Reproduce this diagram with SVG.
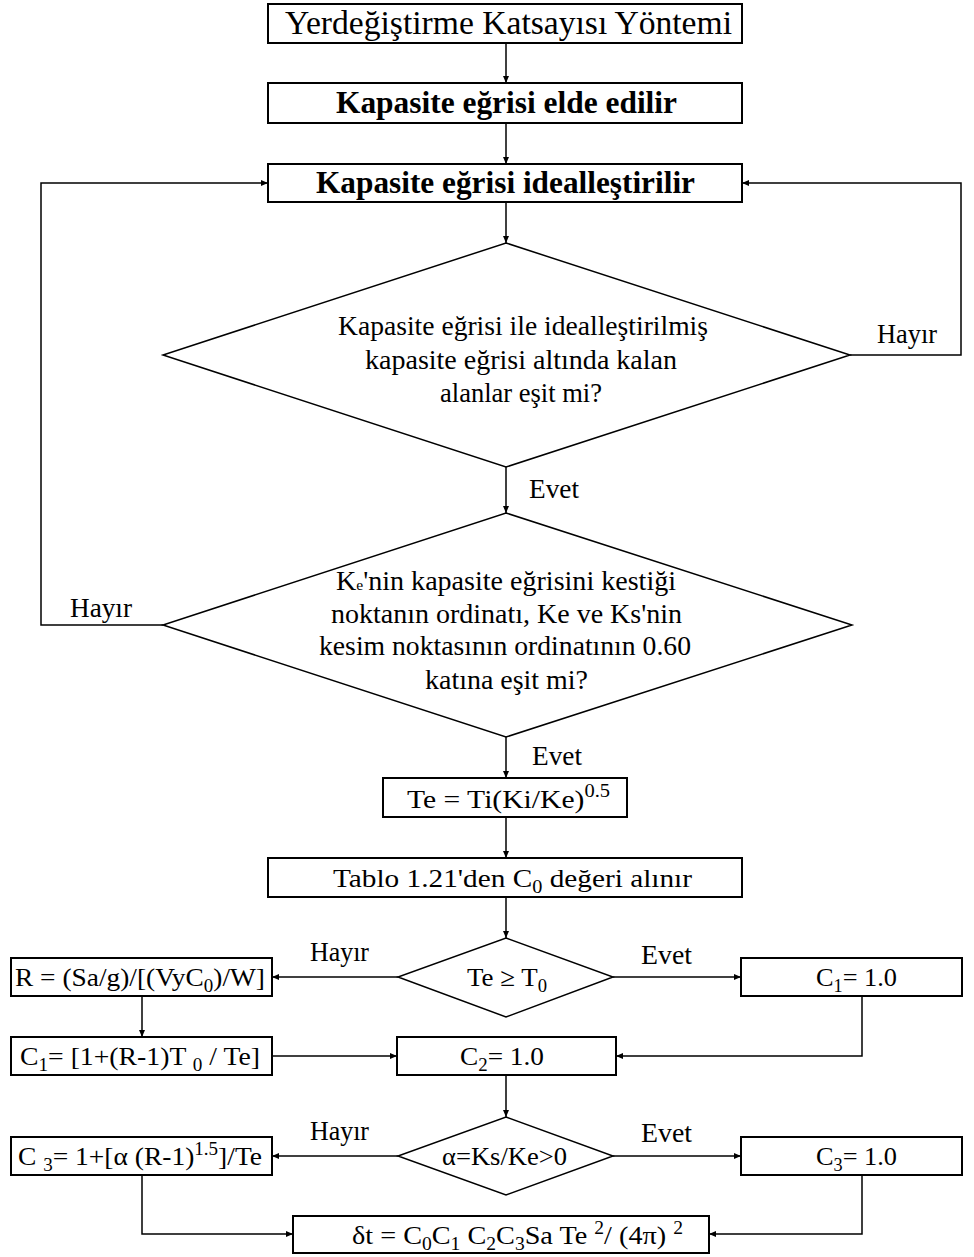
<svg xmlns="http://www.w3.org/2000/svg" width="974" height="1257" viewBox="0 0 974 1257">
<style>
.box{fill:#fff;stroke:#000;stroke-width:2}
.dia{fill:#fff;stroke:#000;stroke-width:1.5}
.ln{fill:none;stroke:#000;stroke-width:1.5;marker-end:url(#ah)}
text{font-family:"Liberation Serif","Times New Roman",serif;fill:#000}
.t30{font-size:33px}
.tb{font-size:31.5px;font-weight:bold}
.t27{font-size:27px}
.t26{font-size:26px}
.sub{font-size:18px}
</style>
<defs>
<marker id="ah" markerWidth="8" markerHeight="8" refX="7" refY="4" orient="auto" markerUnits="userSpaceOnUse">
<path d="M0,1 L7,4 L0,7 Z" fill="#000"/>
</marker>
</defs>
<rect width="974" height="1257" fill="#fff"/>
<g id="connectors">
<path class="ln" d="M506,43 V83"/>
<path class="ln" d="M506,123 V164"/>
<path class="ln" d="M506,202 V243"/>
<path class="ln" d="M506,467 V513"/>
<path class="ln" d="M506,737 V778"/>
<path class="ln" d="M506,817 V858"/>
<path class="ln" d="M506,897 V938"/>
<path class="ln" d="M850,355 H961 V183 H742"/>
<path class="ln" d="M163,625 H41 V183 H268"/>
<path class="ln" d="M398,977 H272"/>
<path class="ln" d="M613,977 H741"/>
<path class="ln" d="M142,996 V1037"/>
<path class="ln" d="M272,1056 H397"/>
<path class="ln" d="M862,996 V1056 H616"/>
<path class="ln" d="M506,1075 V1117"/>
<path class="ln" d="M398,1156 H272"/>
<path class="ln" d="M613,1156 H741"/>
<path class="ln" d="M142,1175 V1234 H293"/>
<path class="ln" d="M862,1175 V1234 H709"/>
</g>
<g id="labels">
<text class="t27" x="877" y="343" textLength="60" lengthAdjust="spacingAndGlyphs">Hayır</text>
<text class="t27" x="70" y="617" textLength="62" lengthAdjust="spacingAndGlyphs">Hayır</text>
<text class="t27" x="529" y="498" textLength="50" lengthAdjust="spacingAndGlyphs">Evet</text>
<text class="t27" x="532" y="765" textLength="50" lengthAdjust="spacingAndGlyphs">Evet</text>
<text class="t27" x="310" y="961" textLength="59" lengthAdjust="spacingAndGlyphs">Hayır</text>
<text class="t27" x="310" y="1140" textLength="59" lengthAdjust="spacingAndGlyphs">Hayır</text>
<text class="t27" x="641" y="964" textLength="51" lengthAdjust="spacingAndGlyphs">Evet</text>
<text class="t27" x="641" y="1142" textLength="51" lengthAdjust="spacingAndGlyphs">Evet</text>
</g>
<g id="n1">
<rect class="box" x="268" y="4" width="474" height="39"/>
<text class="t30" x="285" y="34" textLength="447" lengthAdjust="spacingAndGlyphs">Yerdeğiştirme Katsayısı Yöntemi</text>
</g>
<g id="n2">
<rect class="box" x="268" y="83" width="474" height="40"/>
<text class="tb" x="336" y="113" textLength="341" lengthAdjust="spacingAndGlyphs">Kapasite eğrisi elde edilir</text>
</g>
<g id="n3">
<rect class="box" x="268" y="164" width="474" height="38"/>
<text class="tb" x="316" y="193" textLength="379" lengthAdjust="spacingAndGlyphs">Kapasite eğrisi idealleştirilir</text>
</g>
<g id="d1">
<polygon class="dia" points="506,243 850,355 506,467 163,355"/>
<text class="t27" x="338" y="335" textLength="370" lengthAdjust="spacingAndGlyphs">Kapasite eğrisi ile idealleştirilmiş</text>
<text class="t27" x="365" y="369" textLength="312" lengthAdjust="spacingAndGlyphs">kapasite eğrisi altında kalan</text>
<text class="t27" x="440" y="402" textLength="162" lengthAdjust="spacingAndGlyphs">alanlar eşit mi?</text>
</g>
<g id="d2">
<polygon class="dia" points="506,513 852,625 506,737 163,625"/>
<text class="t27" x="336" y="590" textLength="340" lengthAdjust="spacingAndGlyphs">K<tspan font-size="15">e</tspan>'nin kapasite eğrisini kestiği</text>
<text class="t27" x="331" y="623" textLength="351" lengthAdjust="spacingAndGlyphs">noktanın ordinatı, Ke ve Ks'nin</text>
<text class="t27" x="319" y="655" textLength="372" lengthAdjust="spacingAndGlyphs">kesim noktasının ordinatının 0.60</text>
<text class="t27" x="425" y="689" textLength="163" lengthAdjust="spacingAndGlyphs">katına eşit mi?</text>
</g>
<g id="n4">
<rect class="box" x="383" y="778" width="244" height="39"/>
<text class="t26" x="407" y="808" textLength="203" lengthAdjust="spacingAndGlyphs">Te = Ti(Ki/Ke)<tspan class="sub" dy="-11">0.5</tspan></text>
</g>
<g id="n5">
<rect class="box" x="268" y="858" width="474" height="39"/>
<text class="t26" x="333" y="887" textLength="359" lengthAdjust="spacingAndGlyphs">Tablo 1.21'den C<tspan class="sub" dy="6">0</tspan><tspan dy="-6"> değeri alınır</tspan></text>
</g>
<g id="d3">
<polygon class="dia" points="506,938 613,977 506,1017 398,977"/>
<text class="t26" x="467" y="986" textLength="80" lengthAdjust="spacingAndGlyphs">Te ≥ T<tspan class="sub" dy="6">0</tspan></text>
</g>
<g id="n6">
<rect class="box" x="11" y="958" width="261" height="38"/>
<text class="t26" x="15" y="986" textLength="250" lengthAdjust="spacingAndGlyphs">R = (Sa/g)/[(VyC<tspan class="sub" dy="6">0</tspan><tspan dy="-6">)/W]</tspan></text>
</g>
<g id="n7">
<rect class="box" x="741" y="958" width="221" height="38"/>
<text class="t26" x="816" y="986" textLength="81" lengthAdjust="spacingAndGlyphs">C<tspan class="sub" dy="6">1</tspan><tspan dy="-6">= 1.0</tspan></text>
</g>
<g id="n8">
<rect class="box" x="11" y="1037" width="261" height="38"/>
<text class="t26" x="20" y="1065" textLength="240" lengthAdjust="spacingAndGlyphs">C<tspan class="sub" dy="6">1</tspan><tspan dy="-6">= [1+(R-1)T </tspan><tspan class="sub" dy="6">0</tspan><tspan dy="-6"> / Te]</tspan></text>
</g>
<g id="n9">
<rect class="box" x="397" y="1037" width="219" height="38"/>
<text class="t26" x="460" y="1065" textLength="84" lengthAdjust="spacingAndGlyphs">C<tspan class="sub" dy="6">2</tspan><tspan dy="-6">= 1.0</tspan></text>
</g>
<g id="d4">
<polygon class="dia" points="506,1117 613,1156 506,1195 398,1156"/>
<text class="t26" x="442" y="1165" textLength="125" lengthAdjust="spacingAndGlyphs">α=Ks/Ke&gt;0</text>
</g>
<g id="n10">
<rect class="box" x="11" y="1137" width="261" height="38"/>
<text class="t26" x="18" y="1165" textLength="244" lengthAdjust="spacingAndGlyphs">C <tspan class="sub" dy="6">3</tspan><tspan dy="-6">= 1+[α (R-1)</tspan><tspan class="sub" dy="-10">1.5</tspan><tspan dy="10">]/Te</tspan></text>
</g>
<g id="n11">
<rect class="box" x="741" y="1137" width="221" height="38"/>
<text class="t26" x="816" y="1165" textLength="81" lengthAdjust="spacingAndGlyphs">C<tspan class="sub" dy="6">3</tspan><tspan dy="-6">= 1.0</tspan></text>
</g>
<g id="n12">
<rect class="box" x="293" y="1216" width="416" height="37"/>
<text class="t26" x="352" y="1244" textLength="331" lengthAdjust="spacingAndGlyphs">δt = C<tspan class="sub" dy="6">0</tspan><tspan dy="-6">C</tspan><tspan class="sub" dy="6">1</tspan><tspan dy="-6"> C</tspan><tspan class="sub" dy="6">2</tspan><tspan dy="-6">C</tspan><tspan class="sub" dy="6">3</tspan><tspan dy="-6">Sa Te </tspan><tspan class="sub" dy="-10">2</tspan><tspan dy="10">/ (4π) </tspan><tspan class="sub" dy="-10">2</tspan></text>
</g>
</svg>
